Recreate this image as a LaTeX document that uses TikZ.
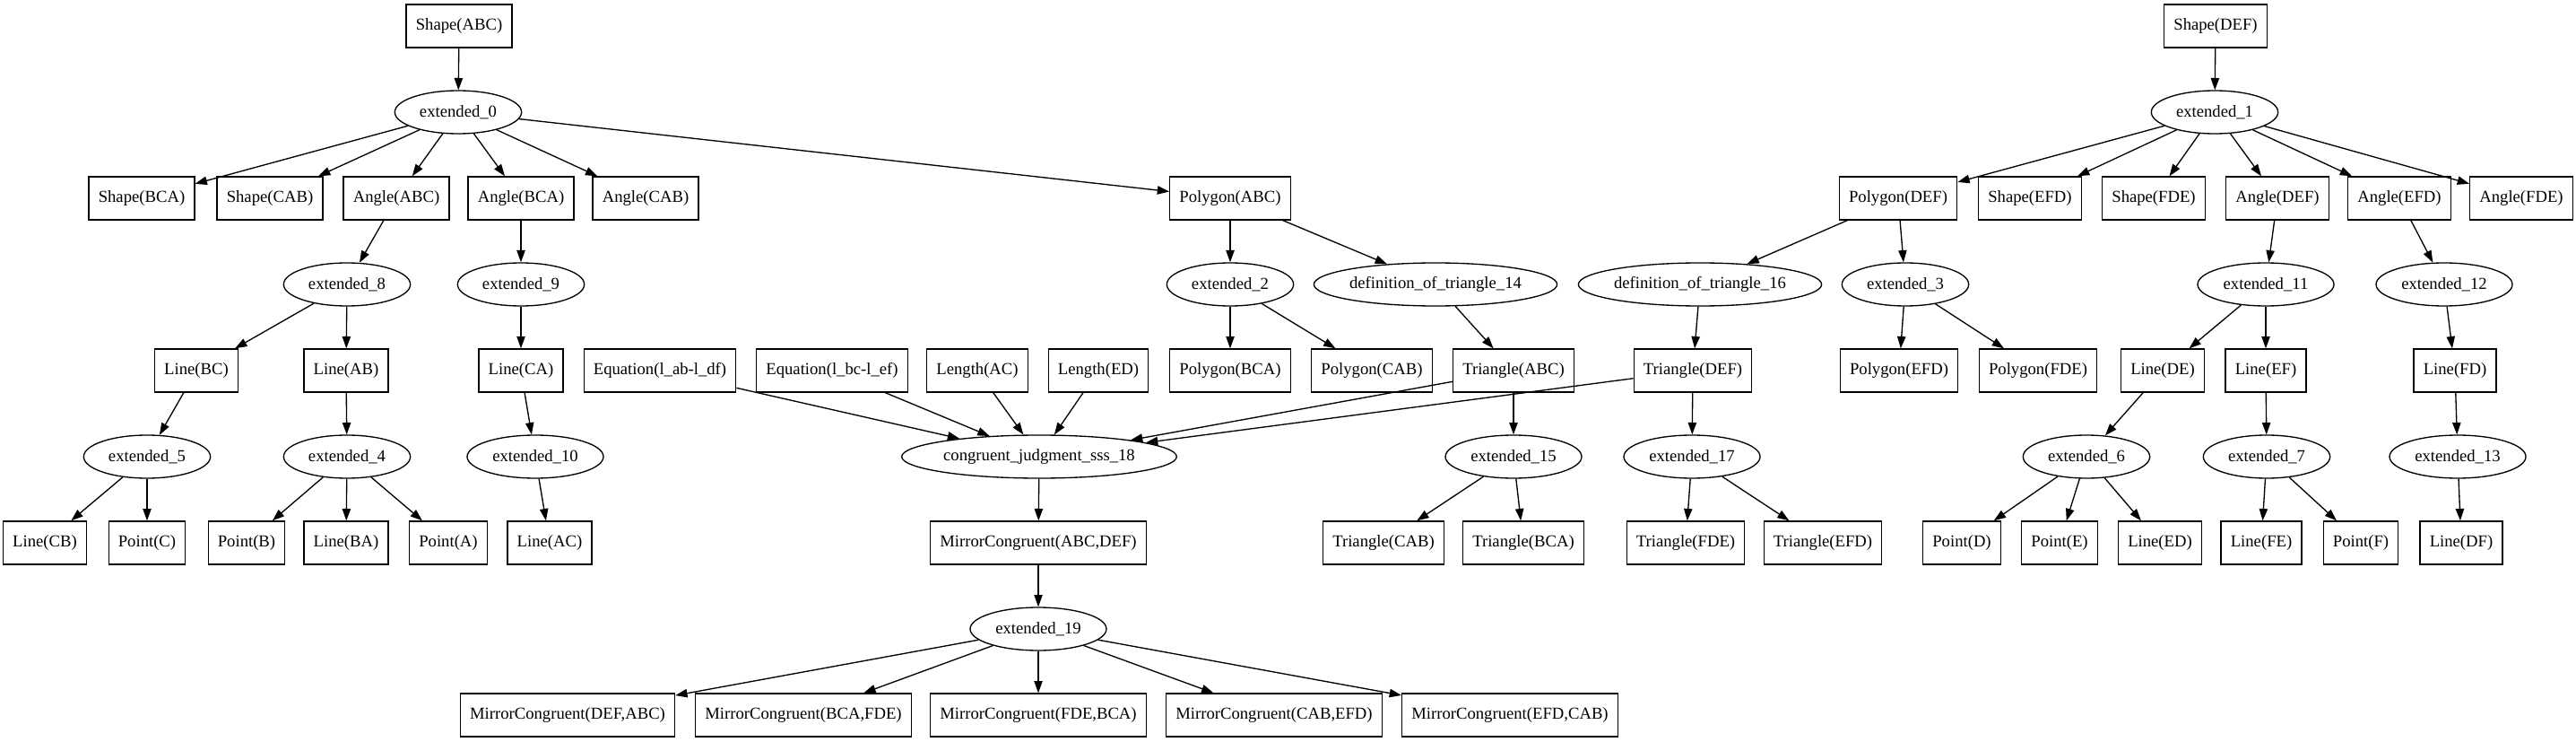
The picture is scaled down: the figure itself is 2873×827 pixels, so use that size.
\documentclass[tikz,border=0pt]{standalone}
\usepackage{fontspec}
\setmainfont{Liberation Serif}
\usetikzlibrary{shapes.geometric,arrows.meta}
\begin{document}
\begin{tikzpicture}[x=0.75pt,y=-0.75pt,
  box/.style={draw,rectangle,line width=1pt,minimum height=36pt,minimum width=54pt,inner xsep=8pt,font=\fontsize{14}{16}\selectfont},
  ell/.style={draw,ellipse,line width=1pt,inner sep=0pt,minimum height=36pt,minimum width=106pt,font=\fontsize{14}{16}\selectfont},
  ellw/.style={ell,minimum width=114pt},
  arr/.style={-{Triangle[length=10pt,width=7pt]},line width=1pt}]
\useasboundingbox (0,0) rectangle (2873,827);
% row 1
\node[box] (shapeABC) at (512,29) {Shape(ABC)};
\node[box] (shapeDEF) at (2471,29) {Shape(DEF)};
% row 1.5
\node[ell] (ext0) at (511,125) {extended\_0};
\node[ell] (ext1) at (2470,125) {extended\_1};
% row 2
\node[box] (shapeBCA) at (158,221) {Shape(BCA)};
\node[box] (shapeCAB) at (301,221) {Shape(CAB)};
\node[box] (angleABC) at (442,221) {Angle(ABC)};
\node[box] (angleBCA) at (581,221) {Angle(BCA)};
\node[box] (angleCAB) at (720,221) {Angle(CAB)};
\node[box] (polyABC) at (1372,221) {Polygon(ABC)};
\node[box] (polyDEF) at (2117,221) {Polygon(DEF)};
\node[box] (shapeEFD) at (2264,221) {Shape(EFD)};
\node[box] (shapeFDE) at (2402,221) {Shape(FDE)};
\node[box] (angleDEF) at (2540,221) {Angle(DEF)};
\node[box] (angleEFD) at (2676,221) {Angle(EFD)};
\node[box] (angleFDE) at (2812,221) {Angle(FDE)};
% row 3
\node[ell] (ext8) at (387,317) {extended\_8};
\node[ell] (ext9) at (581,317) {extended\_9};
\node[ell] (ext2) at (1372,317) {extended\_2};
\node[ell,minimum width=203pt] (dot14) at (1601,317) {definition\_of\_triangle\_14};
\node[ell,minimum width=203pt] (dot16) at (1896,317) {definition\_of\_triangle\_16};
\node[ell] (ext3) at (2125,317) {extended\_3};
\node[ellw] (ext11) at (2527,317) {extended\_11};
\node[ellw] (ext12) at (2726,317) {extended\_12};
% row 4
\node[box] (lineBC) at (219,413) {Line(BC)};
\node[box] (lineAB) at (386,413) {Line(AB)};
\node[box] (lineCA) at (581,413) {Line(CA)};
\node[box] (eq1) at (736,413) {Equation(l\_ab-l\_df)};
\node[box] (eq2) at (928,413) {Equation(l\_bc-l\_ef)};
\node[box] (lenAC) at (1090,413) {Length(AC)};
\node[box] (lenED) at (1225,413) {Length(ED)};
\node[box] (polyBCA) at (1372,413) {Polygon(BCA)};
\node[box] (polyCAB) at (1530,413) {Polygon(CAB)};
\node[box] (triABC) at (1688,413) {Triangle(ABC)};
\node[box] (triDEF) at (1888,413) {Triangle(DEF)};
\node[box] (polyEFD) at (2118,413) {Polygon(EFD)};
\node[box] (polyFDE) at (2273,413) {Polygon(FDE)};
\node[box] (lineDE) at (2412,413) {Line(DE)};
\node[box] (lineEF) at (2527,413) {Line(EF)};
\node[box] (lineFD) at (2738,413) {Line(FD)};
% row 5
\node[ell] (ext5) at (164,509) {extended\_5};
\node[ell] (ext4) at (387,509) {extended\_4};
\node[ellw] (ext10) at (597,509) {extended\_10};
\node[ell,minimum width=230pt] (cj18) at (1159,509) {congruent\_judgment\_sss\_18};
\node[ellw] (ext15) at (1688,509) {extended\_15};
\node[ellw] (ext17) at (1887,509) {extended\_17};
\node[ell] (ext6) at (2327,509) {extended\_6};
\node[ell] (ext7) at (2528,509) {extended\_7};
\node[ellw] (ext13) at (2741,509) {extended\_13};
% row 6
\node[box] (lineCB) at (50,605) {Line(CB)};
\node[box] (pointC) at (164,605) {Point(C)};
\node[box] (pointB) at (275,605) {Point(B)};
\node[box] (lineBA) at (386,605) {Line(BA)};
\node[box] (pointA) at (500,605) {Point(A)};
\node[box] (lineAC) at (613,605) {Line(AC)};
\node[box] (mcABCDEF) at (1158,605) {MirrorCongruent(ABC,DEF)};
\node[box] (triCAB) at (1543,605) {Triangle(CAB)};
\node[box] (triBCA) at (1699,605) {Triangle(BCA)};
\node[box] (triFDE) at (1880,605) {Triangle(FDE)};
\node[box] (triEFD) at (2033,605) {Triangle(EFD)};
\node[box] (pointD) at (2188,605) {Point(D)};
\node[box] (pointE) at (2297,605) {Point(E)};
\node[box] (lineED) at (2409,605) {Line(ED)};
\node[box] (lineFE) at (2522,605) {Line(FE)};
\node[box] (pointF) at (2633,605) {Point(F)};
\node[box] (lineDF) at (2745,605) {Line(DF)};
% row 7
\node[ellw] (ext19) at (1158,701) {extended\_19};
% row 8
\node[box] (mc1) at (633,797) {MirrorCongruent(DEF,ABC)};
\node[box] (mc2) at (896,797) {MirrorCongruent(BCA,FDE)};
\node[box] (mc3) at (1158,797) {MirrorCongruent(FDE,BCA)};
\node[box] (mc4) at (1421,797) {MirrorCongruent(CAB,EFD)};
\node[box] (mc5) at (1684,797) {MirrorCongruent(EFD,CAB)};
% edges
\foreach \a/\b in {shapeABC/ext0, ext0/shapeBCA, ext0/shapeCAB, ext0/angleABC, ext0/angleBCA, ext0/angleCAB, ext0/polyABC,
  angleABC/ext8, angleBCA/ext9, ext8/lineBC, ext8/lineAB, ext9/lineCA,
  lineBC/ext5, lineAB/ext4, lineCA/ext10,
  ext5/lineCB, ext5/pointC, ext4/pointB, ext4/lineBA, ext4/pointA, ext10/lineAC,
  polyABC/ext2, polyABC/dot14, ext2/polyBCA, ext2/polyCAB, dot14/triABC,
  eq1/cj18, eq2/cj18, lenAC/cj18, lenED/cj18, triABC/cj18, triDEF/cj18,
  triABC/ext15, ext15/triCAB, ext15/triBCA, triDEF/ext17, ext17/triFDE, ext17/triEFD,
  cj18/mcABCDEF, mcABCDEF/ext19, ext19/mc1, ext19/mc2, ext19/mc3, ext19/mc4, ext19/mc5,
  shapeDEF/ext1, ext1/polyDEF, ext1/shapeEFD, ext1/shapeFDE, ext1/angleDEF, ext1/angleEFD, ext1/angleFDE,
  polyDEF/dot16, polyDEF/ext3, dot16/triDEF, ext3/polyEFD, ext3/polyFDE,
  angleDEF/ext11, angleEFD/ext12, ext11/lineDE, ext11/lineEF, ext12/lineFD,
  lineDE/ext6, lineEF/ext7, lineFD/ext13,
  ext6/pointD, ext6/pointE, ext6/lineED, ext7/lineFE, ext7/pointF, ext13/lineDF}
  \draw[arr] (\a) -- (\b);
\end{tikzpicture}
\end{document}
